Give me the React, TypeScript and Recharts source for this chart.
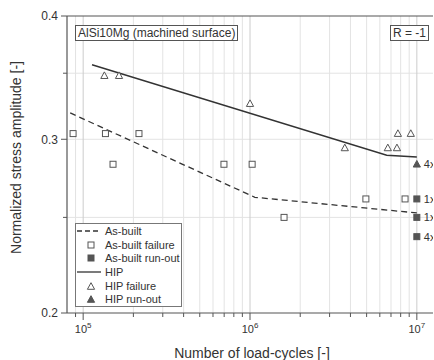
import { ComposedChart, Line, Scatter, XAxis, YAxis, CartesianGrid, ReferenceLine, Legend, Label } from 'recharts'

const W = 434
const H = 360
const FONT = '"Liberation Sans", Arial, sans-serif'
const INK = '#333'
const MARK = '#555'

// S-N fit curves (cycles, normalized amplitude)
const asBuiltLineN = [8.36e4, 1.07e6, 1e7]
const asBuiltLineS = [0.319, 0.262, 0.2526]
const hipLineN = [1.13e5, 6.6e6, 1e7]
const hipLineS = [0.357, 0.289, 0.2878]

// test results
const asBuiltFailN = [8.7e4, 1.36e5, 1.51e5, 2.16e5, 6.98e5, 1.03e6, 1.6e6, 4.95e6, 8.5e6]
const asBuiltFailS = [0.304, 0.304, 0.283, 0.304, 0.283, 0.283, 0.25, 0.261, 0.261]
const asBuiltRunN = [1e7, 1e7, 1e7]
const asBuiltRunS = [0.261, 0.25, 0.239]
const asBuiltRunNote = ['1x', '1x', '4x']
const hipFailN = [1.34e5, 1.64e5, 1e6, 3.7e6, 6.7e6, 7.6e6, 7.7e6, 9.2e6]
const hipFailS = [0.348, 0.348, 0.326, 0.294, 0.294, 0.294, 0.304, 0.304]
const hipRunN = [1e7]
const hipRunS = [0.283]
const hipRunNote = ['4x']

// axes
const xMajor = [1e5, 1e6, 1e7]
const xMinor = [9e4, 2e5, 3e5, 4e5, 5e5, 6e5, 7e5, 8e5, 9e5, 2e6, 3e6, 4e6, 5e6, 6e6, 7e6, 8e6, 9e6]
const yMajor = [0.2, 0.3, 0.4]
const yMinor = [0.25, 0.35]
const yGrid = [0.25, 0.3, 0.35]

const legendLabels = ['As-built', 'As-built failure', 'As-built run-out', 'HIP', 'HIP failure', 'HIP run-out']
const legendKinds = ['dash', 'openSq', 'fillSq', 'solid', 'openTri', 'fillTri']

const pts = (ns: number[], ss: number[], notes?: string[]) =>
  ns.map((n, i) => ({ n, s: ss[i], note: notes ? notes[i] : undefined }))

const tri = (cx: number, cy: number) => `M${cx},${cy - 3.8} L${cx + 3.6},${cy + 2.8} L${cx - 3.6},${cy + 2.8} Z`

const Note = ({ p }: any) =>
  p.payload && p.payload.note ? (
    <text x={p.cx + 7} y={p.cy} dy="0.36em" fontSize={11} fill={INK} fontFamily={FONT}>
      {p.payload.note}
    </text>
  ) : null

const OpenSquare = (p: any) => <rect x={p.cx - 3} y={p.cy - 3} width={6} height={6} fill="#fff" stroke={MARK} strokeWidth={1} />
const FilledSquare = (p: any) => (
  <g>
    <rect x={p.cx - 3} y={p.cy - 3} width={6} height={6} fill={MARK} stroke={MARK} strokeWidth={1} />
    <Note p={p} />
  </g>
)
const OpenTriangle = (p: any) => <path d={tri(p.cx, p.cy)} fill="#fff" stroke={MARK} strokeWidth={1} />
const FilledTriangle = (p: any) => (
  <g>
    <path d={tri(p.cx, p.cy)} fill={MARK} stroke={MARK} strokeWidth={1} />
    <Note p={p} />
  </g>
)

const XTick = ({ x, y, payload }: any) => {
  const major = xMajor.includes(payload.value)
  return (
    <g>
      <line x1={x} y1={y} x2={x} y2={y + (major ? 7 : 4)} stroke={MARK} strokeWidth={1} />
      {major && (
        <text x={x} y={y + 20} textAnchor="middle" fontSize={11} fill={INK} fontFamily={FONT}>
          10<tspan dy={-5} fontSize={8}>{Math.round(Math.log10(payload.value))}</tspan>
        </text>
      )}
    </g>
  )
}

const YTick = ({ x, y, payload }: any) => {
  const major = yMajor.includes(payload.value)
  return (
    <g>
      <line x1={x - (major ? 6 : 4)} y1={y} x2={x} y2={y} stroke={MARK} strokeWidth={1} />
      {major && (
        <text x={x - 9} y={y} dy="0.36em" textAnchor="end" fontSize={12} fill={INK} fontFamily={FONT}>
          {payload.value.toFixed(1)}
        </text>
      )}
    </g>
  )
}

const XTitle = ({ viewBox }: any) => (
  <text x={viewBox.x + viewBox.width / 2 + 2} y={358} textAnchor="middle" fontSize={14} fill={INK} fontFamily={FONT}>
    Number of load-cycles [-]
  </text>
)

const YTitle = ({ viewBox }: any) => (
  <text
    transform={`translate(16,${viewBox.y + viewBox.height / 2 - 7}) rotate(-90)`}
    textAnchor="middle"
    dominantBaseline="central"
    fontSize={14}
    fill={INK}
    fontFamily={FONT}
  >
    Normalized stress amplitude [-]
  </text>
)

const LegendIcon = ({ kind }: { kind: string }) => (
  <svg width={28} height={14} style={{ display: 'block', flex: 'none' }}>
    {kind === 'dash' && <line x1={1} y1={7} x2={25} y2={7} stroke={INK} strokeWidth={1.3} strokeDasharray="5 3" />}
    {kind === 'solid' && <line x1={1} y1={7} x2={25} y2={7} stroke={INK} strokeWidth={1.3} />}
    {kind === 'openSq' && <rect x={12} y={4} width={6} height={6} fill="#fff" stroke={MARK} />}
    {kind === 'fillSq' && <rect x={12} y={4} width={6} height={6} fill={MARK} stroke={MARK} />}
    {kind === 'openTri' && <path d={tri(15, 7.5)} fill="#fff" stroke={MARK} />}
    {kind === 'fillTri' && <path d={tri(15, 7.5)} fill={MARK} stroke={MARK} />}
  </svg>
)

const LegendBox = () => (
  <div
    style={{
      boxSizing: 'border-box',
      width: 107,
      height: 84,
      border: '1px solid #777',
      background: '#fff',
      fontFamily: FONT,
      fontSize: 11,
      color: INK,
    }}
  >
    {legendLabels.map((label, i) => (
      <div key={label} style={{ display: 'flex', alignItems: 'center', height: 13.7, lineHeight: '14px' }}>
        <LegendIcon kind={legendKinds[i]} />
        <span style={{ marginLeft: 1, whiteSpace: 'nowrap' }}>{label}</span>
      </div>
    ))}
  </div>
)

const boxStyle = {
  position: 'absolute' as const,
  top: 25,
  height: 16,
  boxSizing: 'border-box' as const,
  border: '1px solid #555',
  background: '#fff',
  fontFamily: FONT,
  fontSize: 12,
  lineHeight: '14px',
  color: INK,
  padding: '0 2px',
  whiteSpace: 'nowrap' as const,
}

export default function App() {
  return (
    <div style={{ position: 'absolute', left: 0, top: 0, width: W, height: H, background: '#fff' }}>
      <ComposedChart width={W} height={H} margin={{ top: 16, right: 1, bottom: 0, left: 0 }}>
        <CartesianGrid horizontal vertical horizontalValues={yGrid} verticalValues={xMinor} stroke="#e3e3e3" strokeWidth={1} />
        <CartesianGrid horizontal={false} vertical verticalValues={xMajor} stroke="#cccccc" strokeWidth={1} />
        <XAxis
          dataKey="n"
          type="number"
          scale="log"
          domain={[8e4, 1.25e7]}
          allowDataOverflow
          ticks={[...xMinor, ...xMajor].sort((a, b) => a - b)}
          interval={0}
          tick={<XTick />}
          tickLine={false}
          tickSize={0}
          tickMargin={0}
          height={47}
          axisLine={{ stroke: MARK, strokeWidth: 1.2 }}
        >
          <Label content={<XTitle />} />
        </XAxis>
        <YAxis
          dataKey="s"
          type="number"
          scale="log"
          domain={[0.2, 0.4]}
          allowDataOverflow
          ticks={[...yMajor, ...yMinor].sort((a, b) => a - b)}
          interval={0}
          tick={<YTick />}
          tickLine={false}
          tickSize={0}
          tickMargin={0}
          width={67}
          axisLine={{ stroke: MARK, strokeWidth: 1.2 }}
        >
          <Label content={<YTitle />} />
        </YAxis>
        <ReferenceLine y={0.4} stroke={MARK} strokeWidth={1.2} />
        <Line
          data={pts(asBuiltLineN, asBuiltLineS)}
          dataKey="s"
          type="linear"
          stroke={INK}
          strokeWidth={1.3}
          strokeDasharray="6 4"
          dot={false}
          isAnimationActive={false}
        />
        <Line
          data={pts(hipLineN, hipLineS)}
          dataKey="s"
          type="linear"
          stroke={INK}
          strokeWidth={1.4}
          dot={false}
          isAnimationActive={false}
        />
        <Scatter data={pts(asBuiltFailN, asBuiltFailS)} shape={OpenSquare} isAnimationActive={false} />
        <Scatter data={pts(asBuiltRunN, asBuiltRunS, asBuiltRunNote)} shape={FilledSquare} isAnimationActive={false} />
        <Scatter data={pts(hipFailN, hipFailS)} shape={OpenTriangle} isAnimationActive={false} />
        <Scatter data={pts(hipRunN, hipRunS, hipRunNote)} shape={FilledTriangle} isAnimationActive={false} />
        <Legend
          layout="vertical"
          align="center"
          verticalAlign="middle"
          content={<LegendBox />}
          wrapperStyle={{ left: 75, top: 223, width: 107, height: 84 }}
        />
      </ComposedChart>
      <div style={{ ...boxStyle, left: 75 }}>AlSi10Mg (machined surface)</div>
      <div style={{ ...boxStyle, left: 390 }}>R = -1</div>
    </div>
  )
}
